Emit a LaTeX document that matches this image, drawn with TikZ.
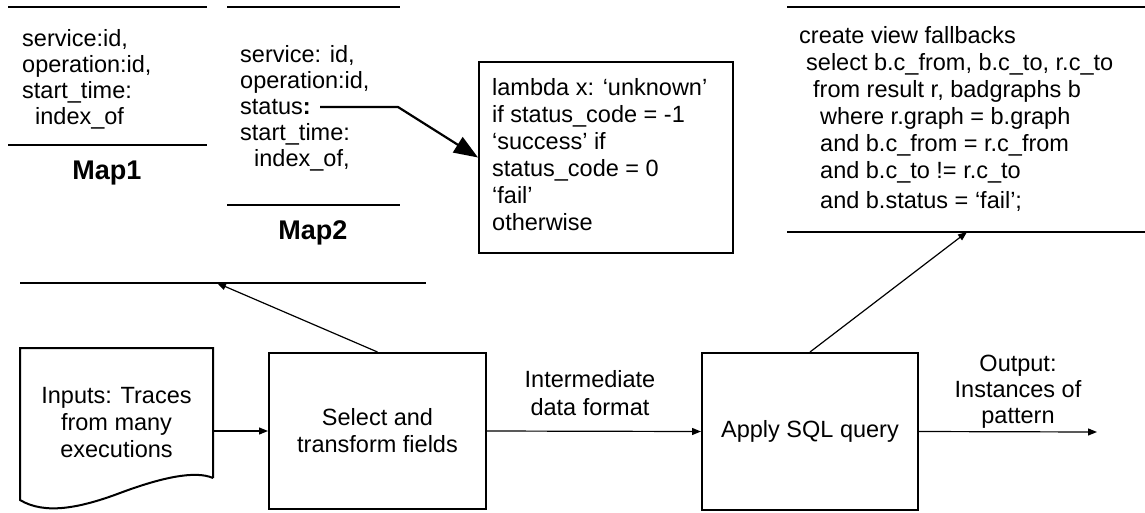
\documentclass[tikz,border=0pt]{standalone}
\usepackage{fontspec}
\setmainfont{Liberation Sans}
\usetikzlibrary{arrows.meta,calc}
\tikzset{
  txt/.style={font=\fontsize{23.5}{26}\selectfont, align=left, inner sep=0pt, anchor=north west},
  ctxt/.style={font=\fontsize{23.5}{27}\selectfont, align=center, inner sep=0pt},
  lbl/.style={font=\fontsize{27}{30}\selectfont\bfseries, inner sep=0pt},
  rule/.style={line width=2.2pt},
  procbox/.style={draw, line width=2pt, inner sep=0pt},
  conn/.style={line width=1.2pt, -{Triangle[length=9pt,width=7pt]}},
  thin/.style={line width=1.2pt}
}
\begin{document}
\begin{tikzpicture}[x=1pt,y=-1pt]
\useasboundingbox (0,0) rectangle (1145,512);

% Map1
\draw[rule] (8,7) -- (207,7);
\draw[rule] (8,145) -- (207,145);
\node[txt] (m1) at (22,29) {service:id,\\operation:id,\\start\_time:\\\hspace*{13pt}index\_of};
\node[lbl] (m1l) at (107,173) {Map1};

% Map2
\draw[rule] (227,7) -- (400,7);
\draw[rule] (227,205) -- (400,205);
\node[txt] (m2) at (240,45) {service: id,\\operation:id,\\status\textbf{:}\\start\_time:\\\hspace*{14pt}index\_of,};
\node[lbl] (m2l) at (313,233) {Map2};

% lambda box
\node[procbox, minimum width=254, minimum height=191] (lam) at (606,157.5) {};
\node[txt, font=\fontsize{23.5}{27}\selectfont] (lamt) at (492,78) {lambda x: ‘unknown’\\if status\_code = -1\\‘success’ if\\status\_code = 0\\‘fail’\\otherwise};

% status connector
\coordinate (st) at (320,107);
\coordinate (bend) at (398,107);
\draw[line width=2.2pt, -{Triangle[length=24pt,width=18pt]}] (st) -- (bend) -- (lam.west);

% SQL block
\draw[rule] (787,7) -- (1145,7);
\draw[rule] (787,232) -- (1145,232);
\node[txt, font=\fontsize{23.5}{27}\selectfont] (sql) at (799,26) {create view fallbacks\\\hspace*{7pt}select b.c\_from, b.c\_to, r.c\_to\\\hspace*{14pt}from result r, badgraphs b\\\hspace*{21pt}where r.graph = b.graph\\\hspace*{21pt}and b.c\_from = r.c\_from\\\hspace*{21pt}and b.c\_to != r.c\_to\\[3pt]\hspace*{21pt}and b.status = ‘fail’;};

% bottom horizontal line
\coordinate (hl1) at (20,283);
\coordinate (hl2) at (426,283);
\coordinate (hlt) at (217,283);
\draw[thin] (hl1) -- (hl2);

% Inputs document
\draw[line width=2pt] (213,478) -- (213,348) -- (20,348) -- (20,500)
  .. controls (45,515) and (80,508) .. (120,493)
  .. controls (160,478) and (195,470) .. (213,478);
\node[ctxt, minimum width=193] (doc) at (116.5,423) {Inputs: Traces\\from many\\executions};

% process boxes
\node[procbox, minimum width=217, minimum height=156, ctxt] (sel) at (377.5,431) {Select and\\transform fields};
\node[procbox, minimum width=216, minimum height=157, ctxt] (app) at (810,431.5) {Apply SQL query};

% connectors
\draw[conn] (doc.east |- sel.west) -- (sel.west);
\draw[conn] (sel.north) -- (hlt);
\draw[conn] (sel.east) -- (app.west);
\coordinate (sqlb) at (967,232);
\draw[conn] (app.north) -- (sqlb);
\coordinate (out) at (1097,432);
\draw[conn] (app.east) -- (out);

% labels
\node[ctxt, font=\fontsize{23.5}{28}\selectfont] (inter) at (590,393) {Intermediate\\data format};
\node[ctxt, font=\fontsize{23.5}{26}\selectfont] (outl) at (1018,392) {Output:\\Instances of\\pattern};
\end{tikzpicture}
\end{document}
